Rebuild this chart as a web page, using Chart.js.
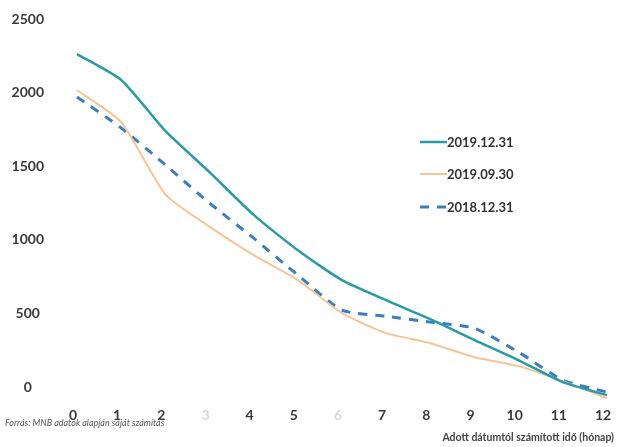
<!DOCTYPE html>
<html>
<head>
<meta charset="utf-8">
<script src="https://cdn.jsdelivr.net/npm/chart.js@4.4.1/dist/chart.umd.min.js"></script>
<style>
html,body{margin:0;padding:0;background:#fff;}
#wrap{width:617px;height:447px;position:relative;}
</style>
</head>
<body>
<div id="wrap"><canvas id="c" width="617" height="447"></canvas></div>
<script>
const months = ['0','1','2','3','4','5','6','7','8','9','10','11','12'];
const s2019dec = [2262, 2086, 1740, 1460, 1170, 930, 727, 591, 462, 320, 183, 34, -54];
const s2019sep = [2018, 1800, 1310, 1090, 897, 727, 503, 367, 299, 204, 143, 41, -75];
const s2018dec = [1970, 1760, 1510, 1250, 1012, 761, 523, 482, 442, 400, 238, 48, -34];
const seriesNames = ['2019.12.31', '2019.09.30', '2018.12.31'];
const yTicks = [0, 500, 1000, 1500, 2000, 2500];
const sourceNote = 'Forrás: MNB adatok alapján saját számítás';
const xTitle = 'Adott dátumtól számított idő (hónap)';

const overlay = {
  id: 'overlay',
  afterDraw(chart) {
    const ctx = chart.ctx;
    ctx.save();
    const items = chart.data.datasets;
    const ys = [142, 174, 207];
    ctx.font = 'bold 13px Lato';
    ctx.textBaseline = 'middle';
    items.forEach((ds, i) => {
      const y = ys[i];
      ctx.strokeStyle = ds.borderColor;
      ctx.lineWidth = ds.borderWidth;
      ctx.setLineDash(ds.borderDash || []);
      ctx.beginPath();
      ctx.moveTo(420, y);
      ctx.lineTo(447, y);
      ctx.stroke();
      ctx.setLineDash([]);
      ctx.fillStyle = '#333';
      ctx.textAlign = 'left';
      ctx.fillText(ds.label, 447, y + 1);
    });
    ctx.font = 'italic 9px Lato';
    ctx.fillStyle = '#555';
    ctx.textAlign = 'left';
    ctx.fillText(sourceNote, 5, 423);
    ctx.font = 'bold 10.5px Lato';
    ctx.fillStyle = '#444';
    ctx.textAlign = 'right';
    ctx.fillText(xTitle, 614, 438);
    ctx.restore();
  }
};

new Chart(document.getElementById('c'), {
  type: 'line',
  data: {
    labels: months,
    datasets: [
      { label: seriesNames[0], data: s2019dec, borderColor: '#2a9aa6', borderWidth: 2.5, pointRadius: 0, tension: 0.2, fill: false },
      { label: seriesNames[1], data: s2019sep, borderColor: '#f5c596', borderWidth: 2, pointRadius: 0, tension: 0.2, fill: false },
      { label: seriesNames[2], data: s2018dec, borderColor: '#3d7cc0', borderWidth: 3, borderDash: [9, 8], pointRadius: 0, tension: 0.2, fill: false }
    ]
  },
  options: {
    responsive: false,
    animation: false,
    clip: false,
    layout: { padding: { left: 0, right: 10, top: 19, bottom: 0 } },
    plugins: { legend: { display: false }, tooltip: { enabled: false } },
    scales: {
      x: {
        offset: false,
        grid: { display: false },
        border: { display: false },
        ticks: {
          padding: 0,
          labelOffset: -4,
          font: { family: 'Lato', size: 14, weight: 'bold' },
          color: (c) => (c.index === 3 || c.index === 6) ? '#d8d8d8' : '#3a3a3a',
          maxRotation: 0,
          autoSkip: false
        },
        afterFit: (s) => { s.height = 48; }
      },
      y: {
        min: -80,
        max: 2500,
        grid: { display: false },
        border: { display: false },
        afterBuildTicks: (s) => { s.ticks = yTicks.map(v => ({ value: v })); },
        ticks: {
          crossAlign: 'center',
          padding: 25,
          autoSkip: false,
          callback: (v) => String(v),
          font: { family: 'Lato', size: 14, weight: 'bold' },
          color: '#3a3a3a'
        },
        afterFit: (s) => { s.width = 77; s.paddingTop = 0; s.paddingBottom = 0; }
      }
    }
  },
  plugins: [overlay]
});
</script>
</body>
</html>
